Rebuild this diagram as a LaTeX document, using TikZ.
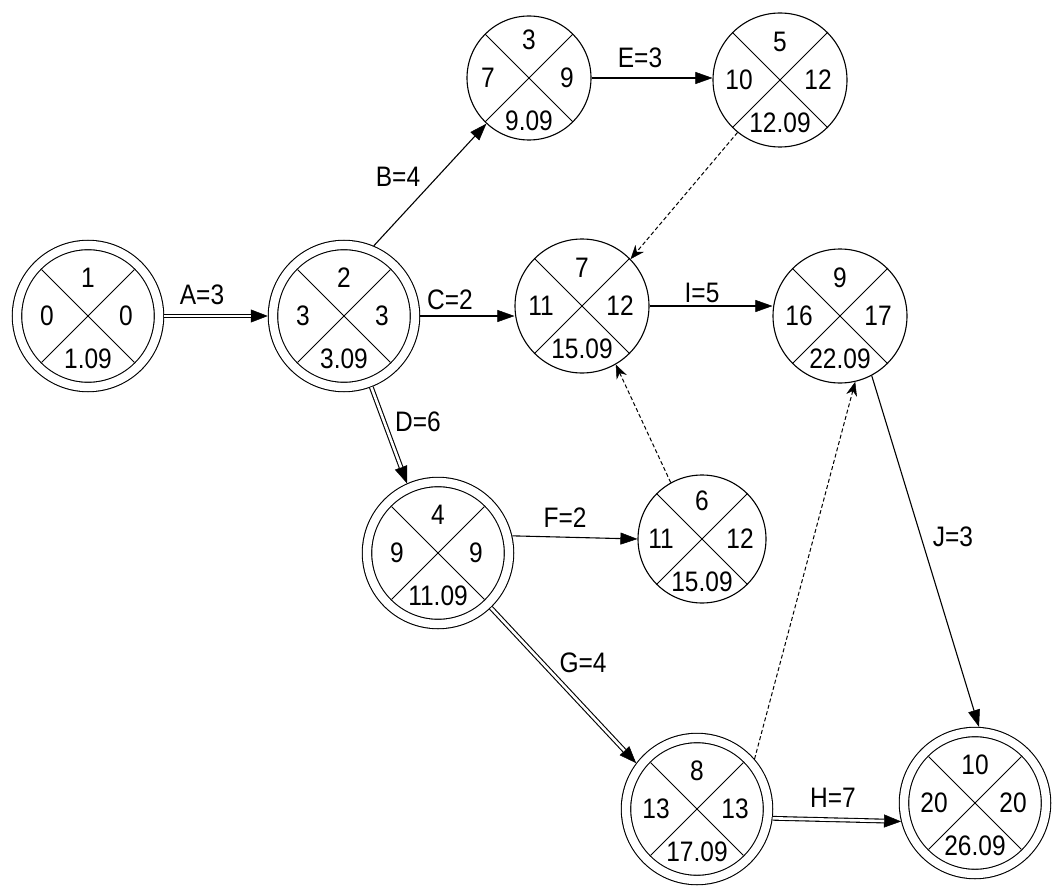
\documentclass[tikz,border=0pt]{standalone}
\usepackage{fontspec}
\setmainfont{Liberation Sans}
\usetikzlibrary{arrows.meta,calc}
\newcommand\vsc[1]{\scalebox{1}[1.15]{#1}}
\tikzset{
  dcirc/.style={circle, draw, line width=1.1pt, double, double distance=8.3pt, minimum size=142pt, inner sep=0pt, outer sep=5.25pt},
  scirc/.style={circle, draw, line width=1.1pt, inner sep=0pt, outer sep=0.55pt},
  xline/.style={line width=0.9pt},
  val/.style={inner sep=0pt, font=\fontsize{24.5}{24.5}\selectfont},
  solidarrow/.style={line width=1.1pt, -{Triangle[length=17pt,width=12pt,line width=0.5pt]}},
  dasharrow/.style={line width=1pt, dash pattern=on 4pt off 2.5pt, -{Stealth[length=14pt,width=11pt,line width=0.5pt]}},
  dblblack/.style={line width=4.8pt, -{Triangle[length=17pt,width=13pt,line width=0.5pt]}},
  dblwhite/.style={line width=2.6pt, draw=white, shorten >=17pt},
}
\newcommand{\dnode}[7]{%
  \node[dcirc] (#1) at (#2,-#3) {};
  \draw[xline] ($(#1.center)+(45:65.5)$) -- ($(#1.center)+(225:65.5)$);
  \draw[xline] ($(#1.center)+(135:65.5)$) -- ($(#1.center)+(-45:65.5)$);
  \node[val] (#1-t) at ($(#1.center)+(0,38)$) {\vsc{#4}};
  \node[val] (#1-l) at ($(#1.center)+(-41,0)$) {\vsc{#5}};
  \node[val] (#1-r) at ($(#1.center)+(38,0)$) {\vsc{#6}};
  \node[val] (#1-b) at ($(#1.center)+(0,-43)$) {\vsc{#7}};
}
\newcommand{\snode}[8]{%
  \node[scirc, minimum size=2*#4] (#1) at (#2,-#3) {};
  \draw[xline] ($(#1.center)+(45:#4)$) -- ($(#1.center)+(225:#4)$);
  \draw[xline] ($(#1.center)+(135:#4)$) -- ($(#1.center)+(-45:#4)$);
  \node[val] (#1-t) at ($(#1.center)+(0,38)$) {\vsc{#5}};
  \node[val] (#1-l) at ($(#1.center)+(-41,0)$) {\vsc{#6}};
  \node[val] (#1-r) at ($(#1.center)+(38,0)$) {\vsc{#7}};
  \node[val] (#1-b) at ($(#1.center)+(0,-43)$) {\vsc{#8}};
}
\newcommand{\dbledge}[2]{%
  \draw[dblblack] (#1) -- (#2);
  \draw[dblwhite] (#1) -- (#2);
}
\begin{document}
\begin{tikzpicture}[x=1pt,y=1pt]
\fill[white] (0,0) rectangle (1052,-888);
\useasboundingbox (0,0) rectangle (1052,-888);

\dnode{n1}{88}{316}{1}{0}{0}{1.09}
\dnode{n2}{344}{316}{2}{3}{3}{3.09}
\snode{n3}{529}{78}{62}{3}{7}{9}{9.09}
\snode{n5}{780}{80}{67}{5}{10}{12}{12.09}
\snode{n7}{582}{306}{67}{7}{11}{12}{15.09}
\snode{n9}{840}{316}{67}{9}{16}{17}{22.09}
\dnode{n4}{438}{553}{4}{9}{9}{11.09}
\snode{n6}{702}{539}{64}{6}{11}{12}{15.09}
\dnode{n8}{697}{809}{8}{13}{13}{17.09}
\dnode{n10}{975}{803}{10}{20}{20}{26.09}

% critical (double) activities
\dbledge{n1.0}{n2.180}
\dbledge{n2.-69}{n4.114}
\dbledge{n4.-46}{n8.143}
\dbledge{n8.-7}{n10.194}

% ordinary activities
\draw[solidarrow] (n2.67) -- (n3.227);
\draw[solidarrow] (n2.east) -- (n2.east -| n7.west);
\draw[solidarrow] (n3.east) -- (n3.east -| n5.west);
\draw[solidarrow] (n4.13) -- (n6.180);
\draw[solidarrow] (n7.east) -- (n7.east -| n9.west);
\draw[solidarrow] (n9.-62) -- (n10.87);

% dummy activities
\draw[dasharrow] (n5.231) -- (n7.44);
\draw[dasharrow] (n6.119) -- (n7.-60);
\draw[dasharrow] (n8.41) -- (n9.-77);

% activity labels
\node[val] (lA) at (202,-295) {\vsc{A=3}};
\node[val] (lB) at (398,-177) {\vsc{B=4}};
\node[val] (lC) at (450,-300) {\vsc{C=2}};
\node[val] (lD) at (418,-422) {\vsc{D=6}};
\node[val] (lE) at (640,-58) {\vsc{E=3}};
\node[val] (lF) at (565,-518) {\vsc{F=2}};
\node[val] (lG) at (583,-663) {\vsc{G=4}};
\node[val] (lH) at (833,-798) {\vsc{H=7}};
\node[val] (lI) at (702,-293) {\vsc{I=5}};
\node[val] (lJ) at (953,-537) {\vsc{J=3}};
\end{tikzpicture}
\end{document}
